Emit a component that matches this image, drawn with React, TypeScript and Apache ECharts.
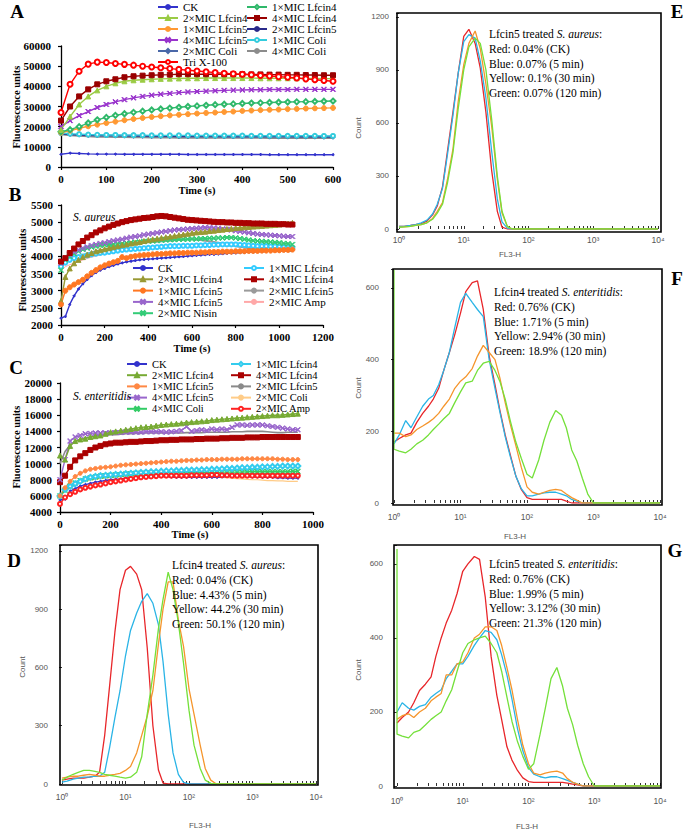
import React, { useEffect, useRef } from 'react';
import * as echarts from 'echarts';

const SERIF = '"Liberation Serif", "Times New Roman", serif';
const SANS = '"Liberation Sans", Arial, sans-serif';
const XSYM = 'path://M0,1L1,0L5,4L9,0L10,1L6,5L10,9L9,10L5,6L1,10L0,9L4,5Z';

// ---------- Panel A (S. aureus, membrane potential) ----------
const tA = [0,20,40,60,80,100,120,140,160,180,200,220,240,260,280,300,320,340,360,380,400,420,440,460,480,500,520,540,560,580,600];
const aCK = [6300,6900,6700,6500,6400,6400,6400,6300,6300,6300,6300,6300,6300,6300,6200,6200,6200,6200,6200,6200,6200,6200,6200,6100,6100,6100,6100,6100,6100,6100,6100];
const a1L4 = [17500,18500,20000,21800,23400,24600,25600,26400,27100,27700,28300,28800,29200,29600,30000,30300,30600,30900,31100,31300,31500,31700,31800,32000,32100,32200,32300,32400,32500,32600,32700];
const a2L4 = [18500,25000,31000,35000,38000,40000,41500,42500,43000,43300,43500,43700,43800,43900,44000,44000,44100,44100,44100,44100,44100,44100,44000,44000,44000,44000,44000,43900,43900,43800,43800];
const a4L4 = [23000,30000,35000,38500,41000,42500,43500,44500,45000,45300,45500,45700,45800,46000,46000,46000,46000,46000,46000,46000,46000,45900,45900,45800,45800,45700,45700,45600,45600,45500,45500];
const a1L5 = [17000,18000,19200,20200,21000,21800,22500,23200,23800,24300,24800,25200,25600,25900,26200,26500,26800,27000,27300,27500,27800,28000,28200,28400,28500,28700,28800,29000,29100,29200,29300];
const a2L5 = [16500,16200,16000,15900,15800,15700,15700,15600,15600,15500,15500,15500,15400,15400,15400,15400,15300,15300,15300,15300,15300,15200,15200,15200,15200,15200,15100,15100,15100,15100,15100];
const a4L5 = [20000,23000,25500,27500,29500,31000,32300,33400,34300,35000,35600,36100,36500,36900,37200,37400,37600,37800,38000,38100,38200,38300,38300,38400,38400,38400,38500,38500,38500,38500,38500];
const a1Co = [16800,16500,16300,16100,16000,15900,15900,15800,15800,15800,15700,15700,15700,15700,15700,15600,15600,15600,15600,15600,15600,15500,15500,15500,15500,15500,15500,15500,15500,15400,15400];
const a2Co = [16500,16100,15800,15600,15500,15400,15300,15300,15200,15200,15100,15100,15100,15000,15000,15000,15000,15000,14900,14900,14900,14900,14900,14800,14800,14800,14800,14800,14800,14700,14700];
const a4Co = [16200,15700,15400,15200,15000,14900,14800,14800,14700,14700,14600,14600,14600,14500,14500,14500,14500,14400,14400,14400,14400,14400,14400,14300,14300,14300,14300,14300,14300,14300,14300];
const aTri = [27000,41000,47500,51000,52000,51800,51300,50900,50500,50000,49600,49200,48800,48400,48000,47600,47200,46800,46500,46200,46000,45700,45400,45100,44800,44500,44100,43700,43300,42900,42500];

// ---------- Panel B (S. aureus) ----------
const tB = [0,20,40,60,80,100,120,140,160,180,200,220,240,260,280,300,320,340,360,380,400,420,440,460,480,500,520,540,560,580,600,620,640,660,680,700,720,740,760,780,800,820,840,860,880,900,920,940,960,980,1000,1020,1040,1060];
const bCK = [2200,2250,2600,2850,3050,3200,3330,3440,3530,3600,3650,3700,3740,3780,3810,3840,3860,3880,3900,3910,3920,3930,3940,3950,3960,3970,3980,3990,4000,4010,4020,4030,4040,4050,4060,4060,4070,4080,4090,4100,4100,4110,4120,4130,4130,4140,4140,4150,4150,4160,4160,4170,4170,4180];
const b1L4 = [3700,3820,3900,3950,3980,4000,4030,4060,4080,4100,4110,4130,4150,4170,4190,4200,4210,4220,4230,4240,4250,4260,4270,4280,4290,4300,4300,4300,4310,4310,4310,4320,4320,4330,4330,4340,4340,4350,4350,4350,4350,4340,4330,4320,4310,4300,4300,4300,4290,4290,4280,4270,4260,4250];
const b2L4 = [2700,3400,3650,3800,3900,3980,4050,4100,4150,4180,4210,4240,4270,4300,4330,4350,4380,4400,4420,4450,4480,4500,4520,4540,4560,4580,4600,4620,4640,4660,4680,4700,4710,4720,4740,4750,4770,4780,4800,4810,4830,4840,4850,4860,4870,4880,4890,4900,4910,4920,4930,4950,4960,4980];
const b4L4 = [3850,3950,4100,4230,4350,4450,4550,4620,4700,4760,4820,4870,4920,4960,5000,5030,5060,5080,5100,5120,5130,5150,5170,5180,5170,5150,5130,5110,5090,5070,5060,5050,5040,5030,5020,5010,5000,5000,4990,4990,4980,4980,4970,4970,4960,4960,4960,4950,4950,4950,4940,4940,4930,4930];
const b1L5 = [2600,3000,3100,3180,3250,3320,3420,3520,3600,3680,3740,3790,3830,3870,3980,3950,3990,4010,4030,4040,4050,4060,4070,4070,4080,4090,4090,4100,4100,4110,4110,4110,4120,4120,4130,4130,4130,4140,4140,4140,4150,4150,4150,4160,4160,4160,4170,4170,4170,4180,4180,4190,4190,4200];
const b2L5 = [3700,3850,3920,3970,4010,4040,4080,4120,4150,4180,4200,4230,4260,4280,4300,4320,4340,4360,4380,4400,4410,4420,4430,4440,4450,4460,4470,4480,4490,4500,4500,4490,4480,4460,4440,4420,4400,4380,4350,4330,4300,4280,4260,4240,4230,4220,4210,4200,4190,4180,4170,4170,4160,4160];
const b4L5 = [3800,3950,4050,4130,4190,4240,4280,4320,4350,4380,4400,4430,4460,4480,4500,4530,4560,4580,4600,4630,4650,4670,4690,4710,4730,4750,4770,4780,4790,4800,4810,4820,4830,4840,4840,4830,4820,4800,4790,4770,4750,4730,4710,4690,4670,4650,4640,4630,4620,4610,4600,4590,4580,4580];
const b2Amp = [3600,3700,3760,3800,3850,3900,3940,3980,4010,4040,4070,4090,4110,4130,4150,4160,4170,4180,4190,4200,4210,4220,4230,4240,4250,4260,4260,4270,4270,4280,4280,4290,4290,4300,4300,4300,4300,4300,4300,4300,4290,4280,4270,4260,4250,4240,4230,4220,4210,4200,4200,4190,4190,4180];
const b2Nis = [3600,3900,4000,4080,4150,4200,4240,4270,4300,4320,4340,4350,4360,4370,4380,4390,4400,4410,4420,4430,4440,4450,4460,4470,4480,4490,4490,4500,4500,4500,4510,4510,4520,4520,4530,4530,4540,4540,4550,4550,4540,4520,4500,4480,4460,4450,4440,4430,4420,4410,4400,4380,4370,4350];

// ---------- Panel C (S. enteritidis) ----------
const tC = [0,20,40,60,80,100,120,140,160,180,200,220,240,260,280,300,320,340,360,380,400,420,440,460,480,500,520,540,560,580,600,620,640,660,680,700,720,740,760,780,800,820,840,860,880,900,920,940];
const cCK = [5500,5600,6600,6900,7200,7400,7550,7700,7800,7900,8000,8050,8100,8200,8250,8300,8350,8400,8400,8400,8400,8400,8350,8300,8300,8300,8300,8300,8300,8300,8300,8300,8350,8400,8400,8400,8400,8400,8350,8350,8300,8300,8300,8250,8250,8200,8200,8200];
const c1L4 = [6000,6800,7200,7500,7800,8100,8300,8400,8500,8550,8600,8650,8700,8750,8800,8850,8900,8950,9000,9000,9050,9100,9100,9150,9150,9200,9200,9200,9250,9250,9300,9300,9350,9400,9400,9450,9500,9500,9550,9550,9600,9600,9650,9650,9700,9700,9700,9700];
const c2L4 = [11000,10500,12200,12800,13000,13100,13300,13400,13500,13700,13900,14000,14100,14200,14300,14400,14500,14550,14600,14700,14800,14850,14900,14950,15000,15100,15150,15200,15250,15300,15400,15450,15500,15550,15600,15650,15700,15750,15800,15850,15900,15950,16000,16000,16050,16100,16150,16200];
const c4L4 = [7700,8500,9600,10400,10900,11300,11700,12000,12200,12400,12500,12600,12600,12650,12700,12700,12750,12800,12800,12850,12900,12900,12950,12950,13000,13000,13000,13050,13050,13100,13100,13100,13150,13150,13200,13200,13200,13250,13250,13250,13300,13300,13300,13300,13300,13300,13300,13300];
const c1L5 = [6000,7000,7800,8400,8800,9100,9300,9400,9500,9550,9600,9700,9800,9850,9900,9950,10000,10050,10100,10150,10200,10250,10300,10300,10350,10400,10400,10450,10450,10500,10500,10500,10550,10550,10550,10550,10600,10600,10600,10600,10600,10600,10600,10550,10550,10500,10500,10500];
const c2L5 = [10000,11500,12300,12800,13000,13200,13300,13400,13500,13550,13600,13600,13650,13700,13700,13750,13750,13800,13800,13800,13800,13800,13800,13800,13800,13850,13850,13850,13850,13900,13900,13900,13900,13900,13950,13950,13950,14000,14000,14000,14000,13950,13900,13850,13850,13900,13900,13900];
const c4L5 = [8000,10500,12800,13300,13500,13700,13750,13800,13800,13800,13800,13850,13850,13900,13900,13900,13900,13950,13950,13950,13950,13900,13950,14000,14100,14600,14000,14100,14200,14100,14300,14200,14300,14200,14500,14800,14800,14750,14800,14800,14800,14700,14600,14500,14400,14300,14200,14200];
const c2Co = [6000,6500,7000,7300,7600,7800,7950,8050,8150,8200,8250,8300,8350,8400,8450,8500,8500,8500,8500,8500,8500,8500,8500,8500,8500,8500,8500,8450,8450,8400,8400,8350,8300,8250,8200,8150,8100,8050,8000,8000,7950,7900,7900,7850,7850,7800,7800,7800];
const c4Co = [6000,6700,7200,7600,7900,8100,8250,8350,8450,8500,8550,8600,8650,8700,8750,8800,8800,8800,8850,8850,8850,8850,8900,8900,8900,8900,8900,8900,8900,8900,8900,8900,8950,8950,8950,8950,8950,9000,9000,9000,9000,9000,9000,9000,9000,9000,9050,9050];
const c2Amp = [5000,5800,6200,6500,6800,7000,7150,7300,7400,7550,7700,7800,7900,8000,8100,8200,8300,8350,8400,8450,8500,8500,8500,8500,8500,8500,8550,8550,8550,8550,8600,8600,8550,8550,8500,8500,8500,8500,8500,8500,8500,8500,8500,8500,8500,8500,8500,8500];

// ---------- Flow cytometry histograms (FL3-H channel, counts) ----------
const fl = [1,1.2,1.5,1.8,2.2,2.7,3.3,3.9,4.7,5.6,6.8,8.2,10,12,15,18,22,27,33,39,47,56,68,82,100,120,150,180,220,270,330,390,470,560,680,820,1000];
const logTicks = [1,2,3,4,5,6,7,8,9,10,20,30,40,50,60,70,80,90,100,200,300,400,500,600,700,800,900,1000,2000,3000,4000,5000,6000,7000,8000,9000,10000];
const logLabels = [1,10,100,1000,10000];

const dRed = [20,25,30,30,30,35,40,60,250,500,780,1000,1100,1120,1080,1000,700,300,72,5,0];
const dBlue = [10,15,25,30,35,35,40,40,60,185,340,480,660,790,880,940,980,930,820,630,360,160,50,8,0];
const dYellow = [30,35,40,40,45,50,45,40,40,45,50,55,70,90,160,250,350,480,720,900,1040,1040,845,708,490,360,200,80,20,0];
const dGreen = [20,35,50,60,70,70,65,60,50,45,40,35,30,35,60,140,360,560,800,950,1090,1000,830,622,380,200,80,20,3,0];

const eRed = [15,15,20,25,30,45,80,130,240,440,660,880,1090,1130,1050,910,660,330,100,10,0];
const eBlue = [15,15,20,25,35,50,85,140,230,420,640,880,1060,1100,1080,950,740,440,170,40,5,0];
const eYellow = [10,12,15,20,25,35,60,100,150,280,450,720,930,1050,1120,1020,820,580,280,90,15,0];
const eGreen = [10,12,15,20,25,35,55,90,140,260,430,680,900,1030,1080,1050,900,620,300,100,15,0];

const fRed = [170,180,190,195,225,250,270,290,320,370,420,470,530,590,615,620,540,410,330,260,190,135,75,38,15,10,10,10,10,10,10,5,0];
const fBlue = [165,190,230,210,240,270,290,300,330,370,420,490,560,585,560,540,520,400,320,255,185,130,75,40,20,20,25,28,30,30,25,20,10,5,0];
const fYellow = [195,195,185,190,205,215,225,235,250,270,290,320,340,352,375,410,440,420,400,350,280,220,160,100,45,30,25,30,35,38,35,25,15,8,0];
const fGreen = [150,145,140,150,165,175,190,205,220,235,250,280,310,335,340,370,390,395,370,340,290,230,170,125,80,70,120,175,225,258,245,210,148,118,69,25,0];
const fGreenEdge = 650;

const gRed = [170,185,200,225,258,275,295,350,400,440,475,520,580,600,620,612,510,350,245,180,106,70,42,22,12,10,10,10,10,10,10,8,5,3,0];
const gBlue = [200,225,210,205,215,220,240,250,260,290,310,330,330,350,380,400,420,415,395,355,300,235,155,95,50,32,25,22,25,25,20,15,10,5,0];
const gYellow = [180,190,195,185,200,210,230,240,250,300,300,330,335,360,400,410,430,430,420,380,320,260,180,110,60,35,30,35,38,40,35,20,10,5,0];
const gGreen = [140,135,130,145,150,165,180,190,200,230,260,310,360,385,395,400,405,385,360,310,240,175,120,80,45,60,140,210,290,320,270,210,165,110,60,25,0];
const gGreenEdge = 640;

const legendA1 = ['CK','2×MIC Lfcin4','1×MIC Lfcin5','4×MIC Lfcin5','2×MIC Coli','Tri X-100'];
const legendA2 = ['1×MIC Lfcin4','4×MIC Lfcin4','2×MIC Lfcin5','1×MIC Coli','4×MIC Coli'];
const legendB1 = ['CK','2×MIC Lfcin4','1×MIC Lfcin5','4×MIC Lfcin5','2×MIC Nisin'];
const legendB2 = ['1×MIC Lfcin4','4×MIC Lfcin4','2×MIC Lfcin5','2×MIC Amp'];
const legendC1 = ['CK','2×MIC Lfcin4','1×MIC Lfcin5','4×MIC Lfcin5','4×MIC Coli'];
const legendC2 = ['1×MIC Lfcin4','4×MIC Lfcin4','2×MIC Lfcin5','2×MIC Coli','2×MIC Amp'];

const SB = '\u200B';
const SC = '\u200B\u200B';

const RED = '#e8262a', BLUE = '#2ab4e6', YEL = '#f5952c', GRN = '#74e03a';

function kin(name: string, gi: number, t: number[], v: number[], color: string, symbol: string, size: number, width = 1.4) {
  return {
    type: 'line', name, xAxisIndex: gi, yAxisIndex: gi,
    data: v.map((y, i) => [t[i], y]),
    symbol, symbolSize: size, showSymbol: symbol !== 'none',
    lineStyle: { color, width },
    itemStyle: { color, borderColor: color, borderWidth: 1 },
    emphasis: { disabled: true },
  };
}

function hist(name: string, gi: number, v: number[], color: string, edge?: number) {
  const pts: number[][] = [];
  if (edge != null) pts.push([fl[0], edge]);
  v.forEach((y, i) => pts.push([fl[i], y]));
  pts.push([10000, 0]);
  return {
    type: 'line', name, xAxisIndex: gi, yAxisIndex: gi, data: pts,
    symbol: 'none', lineStyle: { color, width: 1.3 }, itemStyle: { color },
    emphasis: { disabled: true },
  };
}

const sup = ['\u2070', '\u00B9', '\u00B2', '\u00B3', '\u2074'];

function kinAxes(gi: number, xmin: number, xmax: number, xint: number, ymin: number, ymax: number, yint: number, ym: number, xm: number) {
  const line = { show: true, lineStyle: { color: '#000', width: 1.3 } };
  const tick = { show: true, length: 3, lineStyle: { color: '#000', width: 1.2 } };
  const lab = { fontFamily: SERIF, fontWeight: 'bold', fontSize: 11, color: '#000', formatter: (v: number) => String(v) };
  return {
    x: { gridIndex: gi, type: 'value', min: xmin, max: xmax, interval: xint, axisLine: line, axisTick: tick, axisLabel: { ...lab, margin: xm }, splitLine: { show: false } },
    y: { gridIndex: gi, type: 'value', min: ymin, max: ymax, interval: yint, axisLine: line, axisTick: tick, axisLabel: { ...lab, margin: ym }, splitLine: { show: false } },
  };
}

function histAxes(gi: number, ymax: number, yint: number, xm: number, ym: number) {
  const lab = { fontFamily: SANS, fontSize: 8.5, color: '#555' };
  return {
    x: {
      gridIndex: gi, type: 'log', logBase: 10, min: 1, max: 10000,
      axisLine: { show: false },
      axisTick: { show: true, inside: true, length: 3, customValues: logTicks, lineStyle: { color: '#333' } },
      axisLabel: {
        ...lab, margin: xm, customValues: logLabels,
        formatter: (v: number) => {
          const e = Math.round(Math.log10(v));
          return e >= 0 && e <= 4 ? '10' + sup[e] : '';
        },
      },
      splitLine: { show: false },
    },
    y: {
      gridIndex: gi, type: 'value', min: 0, max: ymax, interval: yint,
      axisLine: { show: false },
      axisTick: { show: true, length: 3, lineStyle: { color: '#333' } },
      axisLabel: { ...lab, fontSize: 8, margin: ym, formatter: (v: number) => (v % yint === 0 ? String(v) : '') },
      splitLine: { show: false },
    },
  };
}

function legendCol(names: string[], left: number, top: number, gap: number, fs: number) {
  return {
    data: names, left, top, orient: 'vertical', padding: 0,
    itemWidth: 20, itemHeight: 5, itemGap: gap, selectedMode: false,
    formatter: (n: string) => n.replace(/\u200B/g, ''),
    textStyle: { fontFamily: SERIF, fontSize: fs, color: '#000' },
  };
}

function txt(x: number, y: number, text: string, style: any, extra: any = {}) {
  return { type: 'text', x, y, z: 100, ...extra, style: { text, fill: '#000', ...style } };
}

export default function App() {
  const ref = useRef<HTMLDivElement>(null);
  useEffect(() => {
    if (!ref.current) return;
    const chart = echarts.init(ref.current, null, { renderer: 'svg' });
    const A = kinAxes(0, 0, 600, 100, 0, 60000, 10000, 10, 6);
    const B = kinAxes(1, 0, 1200, 200, 2000, 5500, 500, 8, 6);
    const C = kinAxes(2, 0, 1000, 200, 4000, 20000, 2000, 8, 6);
    const D = histAxes(3, 1230, 300, 8, 14);
    const E = histAxes(4, 1222, 300, 6, 10);
    const F = histAxes(5, 653, 200, 9, 15);
    const G = histAxes(6, 651, 200, 10, 14);

    const flowStyle = {
      fontFamily: SERIF, fontSize: 11.5, lineHeight: 14.6, verticalAlign: 'top', align: 'left',
      rich: { i: { fontFamily: SERIF, fontSize: 11.5, lineHeight: 14.6, fontStyle: 'italic' } },
    };
    const letter = { fontFamily: SERIF, fontSize: 19, fontWeight: 'bold', align: 'center', verticalAlign: 'middle' };
    const axTitle = { fontFamily: SERIF, fontSize: 10.5, fontWeight: 'bold', align: 'center', verticalAlign: 'middle' };
    const small = { fontFamily: SANS, fontSize: 8, fill: '#555', align: 'center', verticalAlign: 'middle' };
    const frame = (x: number, y: number, w: number, h: number) => ({
      type: 'rect', z: 100, shape: { x, y, width: w, height: h },
      style: { fill: 'none', stroke: '#000', lineWidth: 1.6 },
    });

    const option: any = {
      animation: false,
      backgroundColor: '#fff',
      grid: [
        { left: 61, top: 46, width: 272, height: 121 },
        { left: 61, top: 205, width: 262, height: 120 },
        { left: 60, top: 383, width: 253, height: 129 },
        { left: 62, top: 545, width: 254, height: 239 },
        { left: 399, top: 13, width: 259, height: 216 },
        { left: 394, top: 269, width: 266, height: 234 },
        { left: 397, top: 545, width: 263, height: 241 },
      ],
      xAxis: [A.x, B.x, C.x, D.x, E.x, F.x, G.x],
      yAxis: [A.y, B.y, C.y, D.y, E.y, F.y, G.y],
      legend: [
        legendCol(legendA1, 157, 1.5, 0, 11),
        legendCol(legendA2, 246, 1.5, 0, 11),
        legendCol(legendB1.map((n) => n + SB), 132, 262.5, 0.3, 11),
        legendCol(legendB2.map((n) => n + SB), 243, 262.5, 0.3, 11),
        legendCol(legendC1.map((n) => n + SC), 126, 358.5, 0.2, 10.5),
        legendCol(legendC2.map((n) => n + SC), 230, 358.5, 0.2, 10.5),
      ],
      series: [
        kin('CK', 0, tA, aCK, '#3333cc', 'circle', 2),
        kin('4×MIC Coli', 0, tA, a4Co, '#8c8c8c', 'none', 0, 1.8),
        kin('2×MIC Coli', 0, tA, a2Co, '#4a68a8', 'diamond', 4),
        kin('2×MIC Lfcin5', 0, tA, a2L5, '#2a2a8a', 'circle', 2),
        kin('1×MIC Coli', 0, tA, a1Co, '#33ccdd', 'emptyCircle', 4),
        kin('1×MIC Lfcin5', 0, tA, a1L5, '#ff9933', 'circle', 5),
        kin('1×MIC Lfcin4', 0, tA, a1L4, '#2fb86a', 'emptyDiamond', 5),
        kin('4×MIC Lfcin5', 0, tA, a4L5, '#9933cc', XSYM, 5),
        kin('2×MIC Lfcin4', 0, tA, a2L4, '#9acb44', 'triangle', 5),
        kin('4×MIC Lfcin4', 0, tA, a4L4, '#990000', 'rect', 5),
        kin('Tri X-100', 0, tA, aTri, '#ff0000', 'emptyCircle', 5),

        kin('2×MIC Amp' + SB, 1, tB, b2Amp, '#ffa8a8', 'none', 0, 1),
        kin('2×MIC Lfcin5' + SB, 1, tB, b2L5, '#9a9a9a', 'none', 0, 2),
        kin('1×MIC Lfcin4' + SB, 1, tB, b1L4, '#33ccff', 'emptyCircle', 4),
        kin('2×MIC Nisin' + SB, 1, tB, b2Nis, '#33cc77', XSYM, 5),
        kin('4×MIC Lfcin5' + SB, 1, tB, b4L5, '#9966cc', XSYM, 5),
        kin('2×MIC Lfcin4' + SB, 1, tB, b2L4, '#999933', 'triangle', 5),
        kin('CK' + SB, 1, tB, bCK, '#3333cc', 'circle', 2),
        kin('1×MIC Lfcin5' + SB, 1, tB, b1L5, '#ff7722', 'circle', 5),
        kin('4×MIC Lfcin4' + SB, 1, tB, b4L4, '#aa0000', 'rect', 5),

        kin('2×MIC Coli' + SC, 2, tC, c2Co, '#ffcc88', 'none', 0, 1.2),
        kin('CK' + SC, 2, tC, cCK, '#3333cc', 'circle', 2),
        kin('4×MIC Coli' + SC, 2, tC, c4Co, '#33cc66', XSYM, 5),
        kin('1×MIC Lfcin4' + SC, 2, tC, c1L4, '#33ccee', 'emptyDiamond', 5),
        kin('2×MIC Amp' + SC, 2, tC, c2Amp, '#ff2222', 'emptyCircle', 4),
        kin('1×MIC Lfcin5' + SC, 2, tC, c1L5, '#ff8844', 'circle', 4),
        kin('4×MIC Lfcin4' + SC, 2, tC, c4L4, '#aa0000', 'rect', 5),
        kin('2×MIC Lfcin5' + SC, 2, tC, c2L5, '#8a8a8a', 'none', 0, 1.6),
        kin('4×MIC Lfcin5' + SC, 2, tC, c4L5, '#9966cc', XSYM, 5),
        kin('2×MIC Lfcin4' + SC, 2, tC, c2L4, '#77aa33', 'triangle', 5),

        hist('D red', 3, dRed, RED), hist('D blue', 3, dBlue, BLUE), hist('D yellow', 3, dYellow, YEL), hist('D green', 3, dGreen, GRN),
        hist('E red', 4, eRed, RED), hist('E blue', 4, eBlue, BLUE), hist('E yellow', 4, eYellow, YEL), hist('E green', 4, eGreen, GRN),
        hist('F red', 5, fRed, RED), hist('F blue', 5, fBlue, BLUE), hist('F yellow', 5, fYellow, YEL), hist('F green', 5, fGreen, GRN, fGreenEdge),
        hist('G red', 6, gRed, RED), hist('G blue', 6, gBlue, BLUE), hist('G yellow', 6, gYellow, YEL), hist('G green', 6, gGreen, GRN, gGreenEdge),
      ],
      graphic: [
        frame(60, 545, 258, 240),
        frame(397, 13, 264, 219),
        frame(393, 269, 269, 236),
        frame(394, 545, 267, 243),
        txt(17, 11, 'A', letter),
        txt(15, 194, 'B', letter),
        txt(16, 367, 'C', letter),
        txt(14, 560, 'D', letter),
        txt(677, 11, 'E', letter),
        txt(677, 278, 'F', letter),
        txt(675, 550, 'G', letter),
        txt(16, 107, 'Fluorescence units', axTitle, { rotation: Math.PI / 2 }),
        txt(197, 190, 'Time (s)', axTitle),
        txt(22, 270, 'Fluorescence units', axTitle, { rotation: Math.PI / 2 }),
        txt(192, 348, 'Time (s)', axTitle),
        txt(16, 447, 'Fluorescence units', axTitle, { rotation: Math.PI / 2 }),
        txt(190, 534, 'Time (s)', axTitle),
        txt(73, 217, 'S. aureus', { fontFamily: SERIF, fontSize: 11.5, fontStyle: 'italic', verticalAlign: 'middle' }),
        txt(73, 396, 'S. enteritidis', { fontFamily: SERIF, fontSize: 11.5, fontStyle: 'italic', verticalAlign: 'middle' }),
        txt(22, 667, 'Count', small, { rotation: Math.PI / 2 }),
        txt(358, 128, 'Count', small, { rotation: Math.PI / 2 }),
        txt(358, 388, 'Count', small, { rotation: Math.PI / 2 }),
        txt(358, 670, 'Count', small, { rotation: Math.PI / 2 }),
        txt(200, 825, 'FL3-H', small),
        txt(510, 254, 'FL3-H', small),
        txt(515, 536, 'FL3-H', small),
        txt(527, 826, 'FL3-H', small),
        txt(172, 558, 'Lfcin4 treated {i|S. aureus}:\nRed: 0.04% (CK)\nBlue: 4.43% (5 min)\nYellow: 44.2% (30 min)\nGreen: 50.1% (120 min)', flowStyle),
        txt(489, 27, 'Lfcin5 treated {i|S. aureus}:\nRed: 0.04% (CK)\nBlue: 0.07% (5 min)\nYellow: 0.1% (30 min)\nGreen: 0.07% (120 min)', flowStyle),
        txt(494, 285, 'Lfcin4 treated {i|S. enteritidis}:\nRed: 0.76% (CK)\nBlue: 1.71% (5 min)\nYellow: 2.94% (30 min)\nGreen: 18.9% (120 min)', flowStyle),
        txt(489, 557, 'Lfcin5 treated {i|S. enteritidis}:\nRed: 0.76% (CK)\nBlue: 1.99% (5 min)\nYellow: 3.12% (30 min)\nGreen: 21.3% (120 min)', flowStyle),
      ],
    };
    chart.setOption(option);
    return () => chart.dispose();
  }, []);
  return <div ref={ref} style={{ position: 'absolute', left: 0, top: 0, width: 685, height: 832, background: '#fff' }} />;
}
